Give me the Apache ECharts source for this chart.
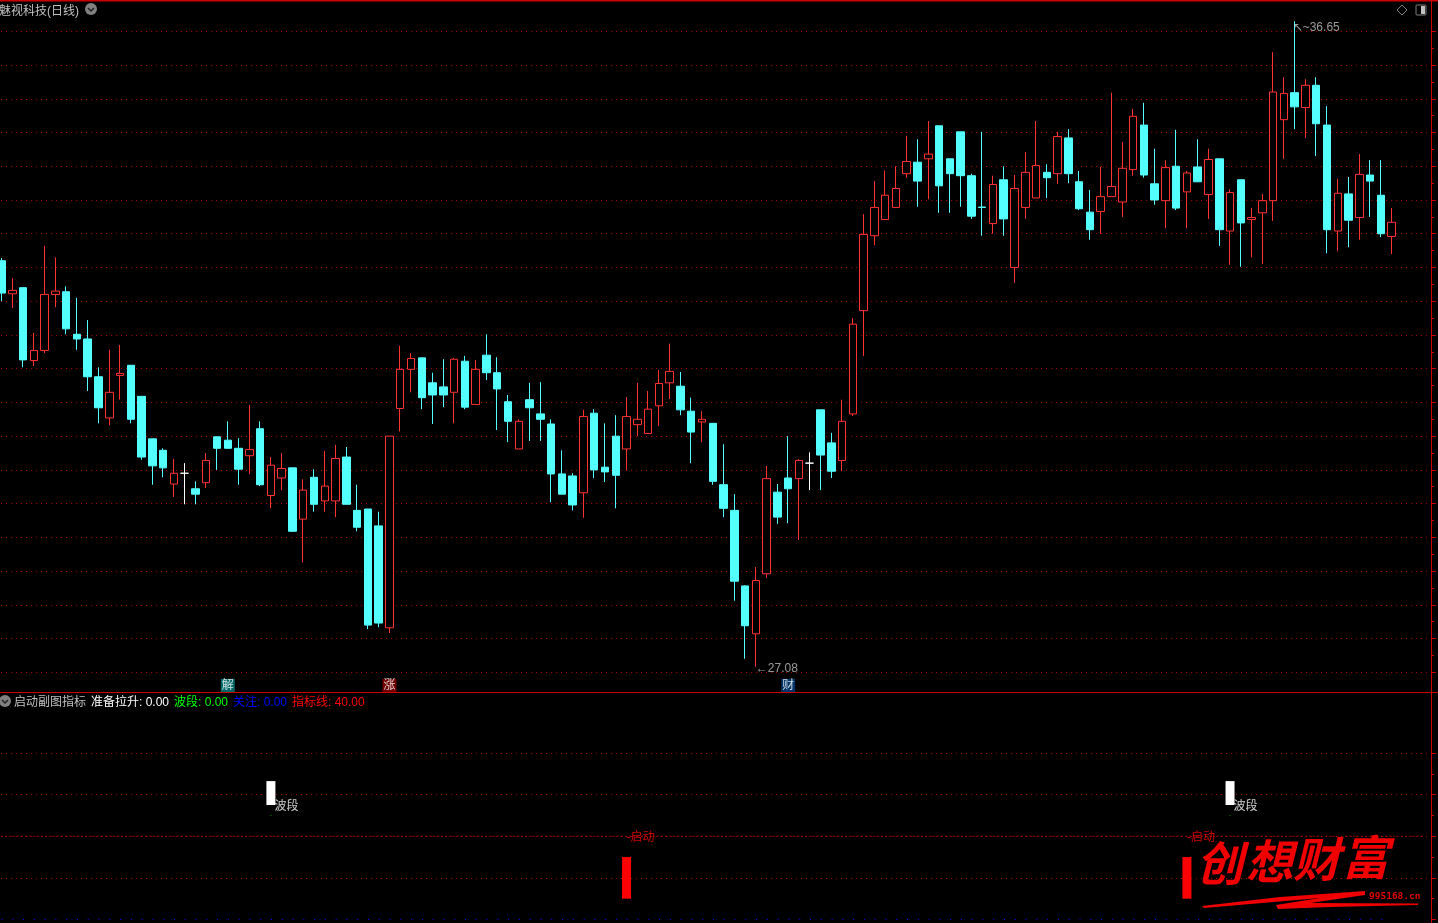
<!DOCTYPE html>
<html><head><meta charset="utf-8">
<style>html,body{margin:0;padding:0;background:#000;overflow:hidden}#c{width:1438px;height:923px}</style>
<script src="https://cdn.jsdelivr.net/npm/echarts@6/dist/echarts.min.js"></script>
</head><body><div id="c"></div>
<script>
const opens=[33.10,32.61,32.70,31.62,31.77,32.60,32.64,32.01,31.94,31.38,
30.77,31.40,31.55,31.09,30.46,30.29,29.79,29.95,29.72,29.81,
30.49,30.44,30.32,30.21,30.61,29.62,29.88,30.03,29.27,29.89,
29.54,29.54,30.19,29.40,29.42,29.17,27.66,30.91,31.49,31.66,
31.29,31.23,31.15,31.61,30.97,31.70,31.44,31.01,30.31,31.04,
30.83,30.68,29.94,29.91,29.66,30.84,30.04,30.50,30.31,30.67,
30.54,30.95,31.29,31.24,30.87,30.71,30.69,29.78,29.40,28.28,
27.57,28.46,29.67,29.88,29.87,30.10,30.89,30.40,30.14,30.83,
32.36,33.47,33.71,33.89,34.39,34.56,34.61,35.10,34.61,35.01,
34.36,33.895,33.65,34.30,33.00,33.89,34.03,34.41,34.39,34.92,
34.27,33.82,33.83,34.05,33.97,34.45,35.11,34.24,33.99,34.50,
34.12,34.49,34.08,34.61,33.54,34.30,33.71,33.81,33.99,35.19,
35.59,35.37,35.70,35.11,33.54,34.09,33.74,34.37,34.07,33.46];
const closes=[32.62,32.66,31.63,31.77,32.60,32.65,32.09,31.94,31.38,30.92,
31.15,31.43,30.75,30.19,30.06,30.03,29.95,29.95,29.64,30.14,
30.32,30.32,30.01,30.30,29.78,30.07,30.02,29.09,29.70,29.49,
29.76,30.17,29.49,29.15,27.70,27.73,30.50,31.49,31.65,31.07,
31.11,31.11,31.64,30.93,31.49,31.44,31.20,30.72,30.72,30.92,
30.75,29.94,29.64,29.48,30.79,30.00,29.97,29.92,30.79,30.75,
30.90,31.28,31.46,30.89,30.56,30.75,29.83,29.43,28.35,27.69,
28.36,29.87,29.30,29.72,30.14,30.10,30.22,29.98,30.72,32.16,
33.49,33.89,34.07,34.17,34.57,34.28,34.68,34.21,34.39,34.36,
33.76,33.89,34.23,33.72,34.17,34.41,34.51,34.33,34.94,34.39,
33.87,33.56,34.05,34.20,34.47,35.24,34.37,34.00,34.48,33.88,
34.40,34.27,34.60,33.56,34.11,33.66,33.74,33.99,35.60,35.58,
35.38,35.70,35.13,33.56,34.10,33.70,34.38,34.28,33.50,33.67];
const lows=[32.50,32.40,31.52,31.54,31.73,32.41,32.01,31.78,31.17,30.69,
30.66,31.04,30.69,30.15,29.78,29.89,29.60,29.49,29.49,29.73,
30.00,30.31,29.78,29.94,29.76,29.43,29.70,29.08,28.63,29.38,
29.38,29.30,29.49,29.09,27.64,27.67,27.58,30.57,31.15,30.90,
30.68,30.93,30.69,30.90,30.97,31.33,30.59,30.41,30.31,30.43,
30.43,29.52,29.64,29.40,29.29,29.88,29.82,29.43,30.00,30.50,
30.54,30.65,31.05,30.81,30.10,30.41,29.78,29.30,28.06,27.20,
27.08,28.40,29.20,29.21,28.96,29.70,29.70,29.88,29.98,30.80,
31.69,33.33,33.71,33.89,34.33,33.90,34.01,33.81,33.81,33.90,
33.72,33.47,33.50,33.47,32.77,33.72,34.03,34.03,34.24,34.25,
33.85,33.41,33.50,34.05,33.75,34.36,34.33,33.93,33.58,33.85,
33.58,34.27,33.72,33.32,33.04,33.01,33.15,33.05,33.69,34.61,
35.05,34.92,34.65,33.21,33.24,33.30,33.41,33.75,33.45,33.20];
const highs=[33.14,32.84,32.70,32.03,33.32,33.15,32.72,32.55,32.22,31.52,
31.78,31.85,31.55,31.09,30.46,30.32,30.16,30.10,29.83,30.25,
30.49,30.72,30.47,30.96,30.72,30.19,30.25,30.03,29.86,30.01,
30.28,30.37,30.34,29.78,29.42,29.38,30.50,31.84,31.73,31.66,
31.44,31.64,31.66,31.69,31.63,32.01,31.67,31.11,30.75,31.29,
31.30,30.75,30.29,29.95,30.89,30.90,30.69,30.81,31.08,31.29,
31.17,31.48,31.87,31.45,31.07,30.87,30.69,30.38,29.64,28.29,
28.56,30.06,29.79,30.50,30.16,30.26,30.89,30.55,31.04,32.25,
33.79,34.28,34.44,34.50,34.95,34.90,35.17,35.10,34.61,35.01,
34.39,35.01,34.36,34.50,34.37,34.71,35.17,34.53,35.01,35.05,
34.43,34.15,34.49,35.59,34.86,35.35,35.44,34.76,34.59,35.04,
34.43,34.90,34.76,34.61,34.16,34.30,33.88,34.09,36.19,35.82,
36.65,35.79,35.82,35.39,34.31,34.34,34.68,34.59,34.59,33.88];

const categories=[];for(let i=0;i<133;i++)categories.push(String(i+1));
const highMark=[120,36.65];
const lowMark=[70,27.08];
const markerIndex=[21,36,73];
const markerText=['解','涨','财'];
const markerPrice=26.80;
const waveIndex=[25,114];
const waveBottom=[55,55];
const waveTop=[66.5,66.5];
const waveDot=[50,50];
const startIndex=[58,110];
const startBottom=[10,10];
const startTop=[30,30];
const indicatorLine=40;
const attentionLine=0;
const stockTitle='魅视科技(日线)';
const subTitle='启动副图指标';
const legendLabels=['准备拉升: 0.00','波段: 0.00','关注: 0.00','指标线: 40.00'];
const logoChars=['创','想','财','富'];

const CN='"Liberation Sans","Noto Sans CJK SC",sans-serif';
const DOT={type:[1,4],color:'#b00000',width:1};
const RED='#cc0000';
function blanks(){return categories.map(()=>null);}
function placed(idx,vals){const a=blanks();idx.forEach((k,j)=>a[k]=vals[j]);return a;}
const bandBase=placed([...waveIndex,...startIndex],[...waveBottom,...startBottom]);
const waveSpan=placed(waveIndex,waveTop.map((v,j)=>v-waveBottom[j]));
const startSpan=placed(startIndex,startTop.map((v,j)=>v-startBottom[j]));

const chart=echarts.init(document.getElementById('c'),null,{renderer:'canvas'});
const txt=(x,y,text,fill,extra)=>({type:'text',silent:true,z:50,x,y,style:Object.assign({text,fill,font:'12px '+CN,verticalAlign:'middle'},extra||{})});
const line=(x1,y1,x2,y2,stroke,w)=>({type:'line',silent:true,z:40,shape:{x1,y1,x2,y2},style:{stroke,lineWidth:w||1}});
const chevronCircle=(cx,cy)=>[
 {type:'circle',silent:true,z:50,shape:{cx,cy,r:6},style:{fill:'#808080'}},
 {type:'polyline',silent:true,z:51,shape:{points:[[cx-3,cy-1],[cx,cy+2],[cx+3,cy-1]]},style:{stroke:'#222',lineWidth:1.5,fill:null}}
];
const legendX=[91,174,233,292];
const legendColors=['#ffffff','#00ff00','#0000ff','#ff0000'];
const logoX=[1196,1246,1293,1342];
const option={
 backgroundColor:'#000',animation:false,
 grid:[
  {left:-3.9,width:1433.3,top:31.3,height:641,outerBoundsMode:'none'},
  {left:-3.9,width:1433.3,top:753,height:166.5,outerBoundsMode:'none'}
 ],
 xAxis:[
  {type:'category',gridIndex:0,data:categories,show:false},
  {type:'category',gridIndex:1,data:categories,show:false}
 ],
 yAxis:[
  {type:'value',gridIndex:0,position:'right',offset:1.5,min:27,max:36.5,interval:0.5,
   axisLine:{show:false},axisLabel:{show:false},
   axisTick:{show:true,length:5,lineStyle:{color:RED}},
   minorTick:{show:true,splitNumber:2,length:3,lineStyle:{color:RED}},
   splitLine:{show:true,lineStyle:DOT}},
  {type:'value',gridIndex:1,position:'right',offset:1.5,min:0,max:80,interval:20,
   axisLine:{show:false},axisLabel:{show:false},
   axisTick:{show:true,length:5,lineStyle:{color:RED}},
   minorTick:{show:true,splitNumber:2,length:3,lineStyle:{color:RED}},
   splitLine:{show:true,showMinLine:false,lineStyle:DOT}}
 ],
 series:[
  {type:'candlestick',xAxisIndex:0,yAxisIndex:0,clip:false,barWidth:8,silent:true,
   data:opens.map((o,i)=>[o,closes[i],lows[i],highs[i]]),
   itemStyle:{color:'#000',color0:'#54ffff',borderColor:'#ff3232',borderColor0:'#54ffff',borderColorDoji:'#ffffff',borderWidth:1}},
  {type:'scatter',xAxisIndex:0,yAxisIndex:0,clip:false,silent:true,symbolSize:0,
   data:[
    {value:highMark,label:{formatter:'↖~'+highMark[1].toFixed(2),offset:[-2,7]}},
    {value:lowMark,label:{formatter:'←'+lowMark[1].toFixed(2),offset:[0,2]}}
   ],
   label:{show:true,position:'right',distance:0,color:'#c0c0c0',fontFamily:'"Liberation Sans"',fontSize:12}},
  {type:'scatter',xAxisIndex:0,yAxisIndex:0,clip:false,silent:true,symbolSize:0,
   data:markerIndex.map((k,j)=>({value:[k,markerPrice],name:markerText[j],
     label:{backgroundColor:['#008080','#8b0000','#003f7f'][j]}})),
   label:{show:true,position:'inside',formatter:p=>p.name,color:'#fff',fontFamily:CN,fontSize:12,padding:[1,1,0,1],lineHeight:13}},
  {type:'bar',xAxisIndex:1,yAxisIndex:1,stack:'band',barWidth:9,silent:true,data:bandBase,itemStyle:{color:'transparent'}},
  {type:'bar',xAxisIndex:1,yAxisIndex:1,stack:'band',barWidth:9,silent:true,data:waveSpan,itemStyle:{color:'#ffffff'}},
  {type:'bar',xAxisIndex:1,yAxisIndex:1,stack:'band',barWidth:9,silent:true,data:startSpan,itemStyle:{color:'#ff0000'}},
  {type:'scatter',xAxisIndex:1,yAxisIndex:1,silent:true,symbolSize:1,itemStyle:{color:'#00ff00'},
   data:waveIndex.map((k,j)=>[k,waveDot[j]]),
   label:{show:true,position:'right',distance:3,offset:[0,-9],formatter:'波段',color:'#fff',fontFamily:CN,fontSize:12}},
  {type:'scatter',xAxisIndex:1,yAxisIndex:1,silent:true,symbolSize:0,
   data:startIndex.map(k=>[k,indicatorLine]),
   label:{show:true,position:'right',distance:0,offset:[0,1],formatter:'-启动',color:'#ff0000',fontFamily:CN,fontSize:12}},
  {type:'line',xAxisIndex:1,yAxisIndex:1,silent:true,symbol:'none',data:categories.map(()=>indicatorLine),
   lineStyle:{color:'#ff0000',width:1,type:[1,3]}},
  {type:'line',xAxisIndex:1,yAxisIndex:1,silent:true,symbol:'none',data:categories.slice(0,130).map(()=>attentionLine),
   lineStyle:{color:'#0000ff',width:1,type:[1,9.78]}}
 ],
 graphic:{elements:[
  line(0,0.5,1438,0.5,RED,2),
  line(0,692.5,1438,692.5,RED,1),
  line(1431.5,0,1431.5,923,RED,1),
  txt(-1,12,stockTitle,'#c0c0c0'),
  ...chevronCircle(91,9),
  ...chevronCircle(5,701),
  txt(14,703,subTitle,'#c0c0c0'),
  ...legendLabels.map((s,i)=>txt(legendX[i],703,s,legendColors[i])),
  {type:'polygon',silent:true,z:50,shape:{points:[[1397,10],[1402,5],[1407,10],[1402,15]]},style:{fill:null,stroke:'#808080'}},
  {type:'rect',silent:true,z:50,shape:{x:1416,y:5,width:10,height:10,r:1},style:{fill:null,stroke:'#808080'}},
  {type:'rect',silent:true,z:51,shape:{x:1421,y:6,width:4,height:8},style:{fill:'#c0c0c0'}},
  ...logoChars.map((c,i)=>({type:'text',silent:true,z:60,x:logoX[i],y:863-i*2,style:{text:c,fill:'#f00000',font:'italic 700 47px "Noto Sans CJK SC"',verticalAlign:'middle'}})),
  txt(1369,897,'995168.cn','#e00000',{font:'bold 9.5px "DejaVu Sans Mono"'}),
  {type:'polygon',silent:true,z:60,shape:{points:[[1202,906],[1280,897],[1365,891],[1365,895],[1310,903],[1418,903.5],[1418,905],[1330,907],[1278,909],[1276,905],[1320,898],[1204,908]]},style:{fill:'#f00000'}}
 ]}
};
chart.setOption(option);
</script></body></html>
